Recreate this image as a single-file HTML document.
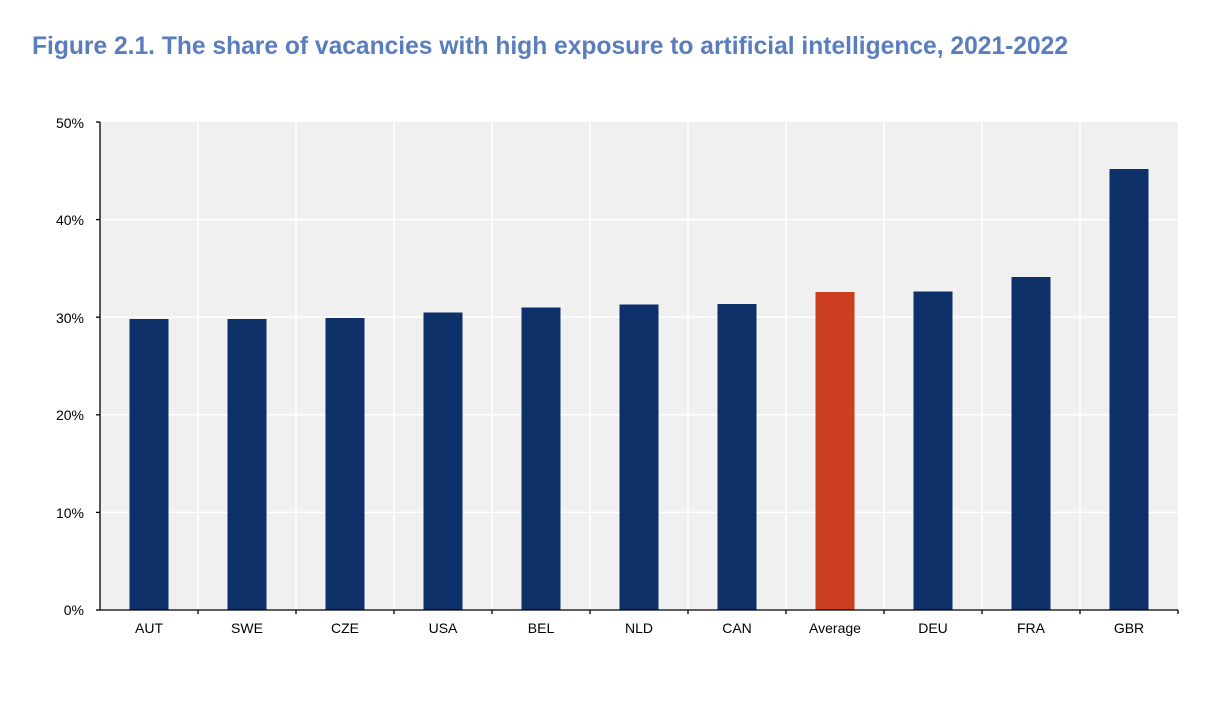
<!DOCTYPE html>
<html><head><meta charset="utf-8"><style>body{margin:0;background:#fff}svg{display:block}</style></head><body>
<svg width="1218" height="704" xmlns="http://www.w3.org/2000/svg" font-family="Liberation Sans, Arial, sans-serif">
<text x="32" y="54" font-size="25" font-weight="bold" fill="#5a7dbd" textLength="1036" lengthAdjust="spacingAndGlyphs">Figure 2.1. The share of vacancies with high exposure to artificial intelligence, 2021-2022</text>
<rect x="100" y="122" width="1078" height="488" fill="#f0f0f0"/>
<g stroke="#fff" stroke-width="1.5">
<line x1="100" x2="1178" y1="219.6" y2="219.6"/><line x1="100" x2="1178" y1="317.2" y2="317.2"/><line x1="100" x2="1178" y1="414.8" y2="414.8"/><line x1="100" x2="1178" y1="512.4" y2="512.4"/>
<line x1="198" x2="198" y1="122" y2="610"/><line x1="296" x2="296" y1="122" y2="610"/><line x1="394" x2="394" y1="122" y2="610"/><line x1="492" x2="492" y1="122" y2="610"/><line x1="590" x2="590" y1="122" y2="610"/><line x1="688" x2="688" y1="122" y2="610"/><line x1="786" x2="786" y1="122" y2="610"/><line x1="884" x2="884" y1="122" y2="610"/><line x1="982" x2="982" y1="122" y2="610"/><line x1="1080" x2="1080" y1="122" y2="610"/>
</g>
<g fill="#0d3068">
<rect x="129.5" y="319" width="39" height="291"/>
<rect x="227.5" y="319" width="39" height="291"/>
<rect x="325.5" y="318" width="39" height="292"/>
<rect x="423.5" y="312.5" width="39" height="297.5"/>
<rect x="521.5" y="307.5" width="39" height="302.5"/>
<rect x="619.5" y="304.5" width="39" height="305.5"/>
<rect x="717.5" y="304" width="39" height="306"/>
<rect x="913.5" y="291.5" width="39" height="318.5"/>
<rect x="1011.5" y="277" width="39" height="333"/>
<rect x="1109.5" y="169" width="39" height="441"/>
</g>
<rect x="815.5" y="292" width="39" height="318" fill="#cc3e20"/>
<g stroke="#000" stroke-width="1.3">
<line x1="100" x2="100" y1="122" y2="610"/><line x1="100" x2="1178" y1="610" y2="610"/>
<line x1="96" x2="100" y1="122" y2="122"/><line x1="96" x2="100" y1="219.6" y2="219.6"/><line x1="96" x2="100" y1="317.2" y2="317.2"/><line x1="96" x2="100" y1="414.8" y2="414.8"/><line x1="96" x2="100" y1="512.4" y2="512.4"/><line x1="96" x2="100" y1="610" y2="610"/>
<line x1="198" x2="198" y1="610" y2="614"/><line x1="296" x2="296" y1="610" y2="614"/><line x1="394" x2="394" y1="610" y2="614"/><line x1="492" x2="492" y1="610" y2="614"/><line x1="590" x2="590" y1="610" y2="614"/><line x1="688" x2="688" y1="610" y2="614"/><line x1="786" x2="786" y1="610" y2="614"/><line x1="884" x2="884" y1="610" y2="614"/><line x1="982" x2="982" y1="610" y2="614"/><line x1="1080" x2="1080" y1="610" y2="614"/><line x1="1178" x2="1178" y1="610" y2="614"/>
</g>
<g font-size="14" fill="#000" text-anchor="end">
<text x="84" y="128">50%</text><text x="84" y="225">40%</text><text x="84" y="323">30%</text><text x="84" y="420">20%</text><text x="84" y="518">10%</text><text x="84" y="615">0%</text>
</g>
<g font-size="14" fill="#000" text-anchor="middle">
<text x="149" y="633">AUT</text><text x="247" y="633">SWE</text><text x="345" y="633">CZE</text><text x="443" y="633">USA</text><text x="541" y="633">BEL</text><text x="639" y="633">NLD</text><text x="737" y="633">CAN</text><text x="835" y="633">Average</text><text x="933" y="633">DEU</text><text x="1031" y="633">FRA</text><text x="1129" y="633">GBR</text>
</g>
</svg>
</body></html>
